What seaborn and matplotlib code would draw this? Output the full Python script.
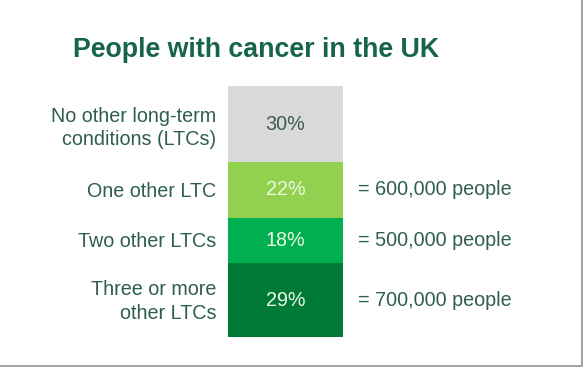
import matplotlib
matplotlib.use("Agg")
import matplotlib.pyplot as plt
import matplotlib.transforms as mtransforms
from matplotlib.lines import Line2D
import seaborn as sns

# Data
categorias = ["No other long-term\nconditions (LTCs)", "One other LTC",
              "Two other LTCs", "Three or more\nother LTCs"]
percentuais = [30, 22, 18, 29]
pessoas = ["", "= 600,000 people", "= 500,000 people", "= 700,000 people"]
cores = ["#d9d9d9", "#92d050", "#00b050", "#007a37"]
cores_texto = ["#3c5a4e", "#eef7e4", "#eef7e4", "#eef7e4"]

verde_titulo = "#16644c"
verde_rotulo = "#2f5e4e"
tamanho = 14.2

sns.set_theme(style="white")
plt.rcParams["font.family"] = ["Liberation Sans", "DejaVu Sans"]

fig = plt.figure(figsize=(5.83, 3.67), dpi=100)
fig.patch.set_facecolor("white")

# eixo exatamente sobre a barra empilhada
ax = fig.add_axes([228 / 583, 30 / 367, 115 / 583, 251 / 367])

base = 0
for i, valor in enumerate(percentuais):
    sns.barplot(x=[0], y=[valor], bottom=base, color=cores[i], width=1.0,
                saturation=1, ax=ax, native_scale=True, linewidth=0)
    meio = base + valor / 2
    ax.text(0, meio, f"{valor}%", ha="center", va="center",
            fontsize=tamanho, color=cores_texto[i])
    base += valor

ax.set_xlim(-0.5, 0.5)
ax.set_ylim(sum(percentuais), 0)
ax.set_axis_off()

# rótulos à esquerda e à direita
esq = mtransforms.blended_transform_factory(fig.transFigure, ax.transData)
base = 0
for i, valor in enumerate(percentuais):
    meio = base + valor / 2
    ax.text(216 / 583, meio + 1.5 if i == 0 else meio + 0.5, categorias[i],
            transform=esq, ha="right", va="center", fontsize=tamanho,
            color=verde_rotulo, linespacing=1.3)
    if pessoas[i]:
        ax.text(358 / 583, meio, pessoas[i], transform=esq, ha="left",
                va="center", fontsize=tamanho, color=verde_rotulo)
    base += valor

fig.text(256 / 583, 1 - 50 / 367, "People with cancer in the UK",
         ha="center", va="center", fontsize=19.3, fontweight="bold",
         color=verde_titulo)

# moldura cinza (direita e embaixo)
fig.add_artist(Line2D([581.5 / 583, 581.5 / 583], [0, 1], color="#a6a6a6", lw=1.5))
fig.add_artist(Line2D([0, 1], [1.5 / 367, 1.5 / 367], color="#a6a6a6", lw=1.5))

fig.savefig("out.png", dpi=100)
plt.close(fig)
